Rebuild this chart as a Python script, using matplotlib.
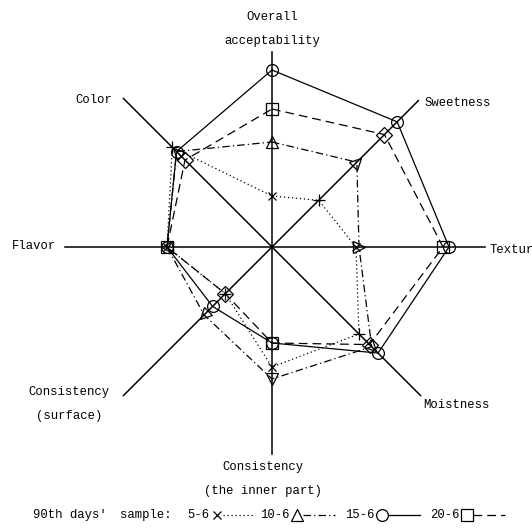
import numpy as np
import matplotlib
matplotlib.use("Agg")
import matplotlib.pyplot as plt
from matplotlib.markers import MarkerStyle
from matplotlib.transforms import Affine2D

plt.rcParams['font.family'] = ['Liberation Mono', 'DejaVu Sans Mono']

# axes, clockwise from the top
attributes = ["Overall\nacceptability", "Sweetness", "Texture", "Moistness",
              "Consistency\n(the inner part)", "Consistency\n(surface)", "Flavor", "Color"]
angles = [90, 45, 0, -45, -90, -135, 180, 135]

# scores (axis length ~7)
series_names = ["5-6", "10-6", "15-6", "20-6"]
s_5_6 = [1.7, 2.2, 2.8, 4.1, 4.0, 2.2, 3.5, 4.7]
s_10_6 = [3.5, 4.0, 2.9, 4.7, 4.4, 3.2, 3.5, 4.5]
s_15_6 = [5.9, 5.9, 5.9, 5.0, 3.2, 2.8, 3.5, 4.5]
s_20_6 = [4.6, 5.3, 5.7, 4.6, 3.2, 2.2, 3.5, 4.1]
series_values = [s_5_6, s_10_6, s_15_6, s_20_6]

markers = ["x", "^", "o", "s"]
styles = [(0, (1, 2.2)), (0, (6, 2.5, 1, 2.5)), "-", (0, (7, 4))]
msizes = [6, 8, 8.5, 8]

axis_len = [6.5, 6.9, 7.1, 7.0, 6.9, 7.0, 6.9, 7.0]

CX, CY, S = 272, 247, 30.0  # centre in pixels, pixels per unit


def P(xp, yp):
    return (xp - CX) / S, (CY - yp) / S


fig = plt.figure(figsize=(5.32, 5.31), dpi=100)
ax = fig.add_axes([0, 0, 1, 1])
ax.set_xlim(-CX / S, (532 - CX) / S)
ax.set_ylim(-(531 - CY) / S, CY / S)
ax.axis("off")

th = np.deg2rad(angles)

# spokes
for t, L in zip(th, axis_len):
    ax.plot([0, L * np.cos(t)], [0, L * np.sin(t)], color="black", lw=1.1, zorder=1)

# series polygons
for vals, mk, ls, ms in zip(series_values, markers, styles, msizes):
    v = np.array(vals)
    x = v * np.cos(th)
    y = v * np.sin(th)
    ax.plot(np.append(x, x[0]), np.append(y, y[0]), color="black", lw=0.9,
            linestyle=ls, zorder=2)
    for xi, yi, a in zip(x, y, angles):
        m = MarkerStyle(mk, transform=Affine2D().rotate_deg(a - 90))
        ax.plot(xi, yi, marker=m, markersize=ms, markerfacecolor="none",
                markeredgecolor="black", markeredgewidth=0.9, zorder=3)

# axis labels (pixel positions)
fs = 8.8
lab_pos = [(272, 29, "center", "center"), (425, 103, "left", "center"),
           (490, 250, "left", "center"), (423, 405, "left", "center"),
           (263, 479, "center", "center"), (69, 404, "center", "center"),
           (12, 246, "left", "center"), (75, 100, "left", "center")]
for name, (xp, yp, ha, va) in zip(attributes, lab_pos):
    ax.text(*P(xp, yp), name, ha=ha, va=va, fontsize=fs, linespacing=2.3,
            clip_on=False)

# legend row
ly = 515
ax.text(*P(33, ly), "90th days'", ha="left", va="center", fontsize=fs)
ax.text(*P(120, ly), "sample:", ha="left", va="center", fontsize=fs)
leg_x = [187, 260, 345, 430]
for name, mk, ls, ms, lx in zip(series_names, markers, styles, msizes, leg_x):
    ax.text(*P(lx, ly), name, ha="left", va="center", fontsize=fs)
    mx = lx + 7.3 * len(name) + 8
    x0, y0 = P(mx, ly)
    x1, _ = P(mx + 38, ly)
    ax.plot([x0 + 0.2, x1], [y0, y0], color="black", lw=0.9, linestyle=ls)
    ax.plot(x0, y0, marker=mk, markersize=ms, markerfacecolor="white",
            markeredgecolor="black", markeredgewidth=0.9)

fig.savefig("out.png", dpi=100)
